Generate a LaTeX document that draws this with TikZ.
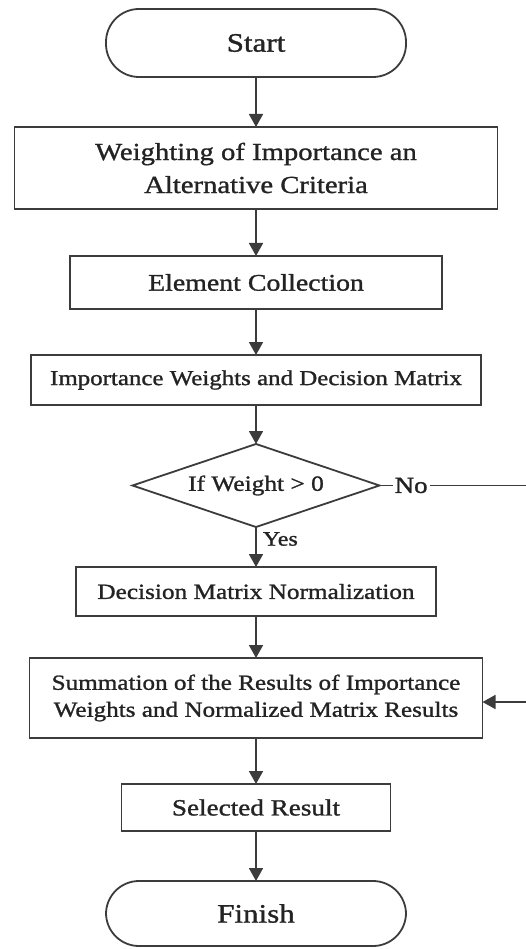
\documentclass[tikz,border=0pt]{standalone}
\usepackage{fontspec}
\setmainfont{Liberation Serif}[FakeStretch=1.17,FakeBold=1.2]
\usetikzlibrary{arrows.meta,positioning,shapes.geometric}
\definecolor{linegray}{RGB}{60,60,60}
\definecolor{textgray}{RGB}{35,35,35}

\begin{document}
\begin{tikzpicture}[
    x=1pt, y=1pt,
    node distance=46pt,
    base/.style={draw=linegray, line width=1.8pt, outer sep=0pt, inner sep=2pt,
                 text=textgray, align=center},
    terminal/.style={base, rectangle, rounded corners=33pt, minimum width=300pt,
                 minimum height=68pt, font=\fontsize{26.5}{30}\selectfont},
    box/.style={base, rectangle, minimum height=50pt},
    decide/.style={base, diamond, aspect=3, minimum width=247pt, minimum height=83pt,
                 inner sep=0pt, font=\fontsize{21.7}{26}\selectfont},
    tag/.style={text=textgray, inner sep=2pt},
    arr/.style={-{Triangle[length=13pt,width=14pt]}, draw=linegray, line width=1.8pt}
]
    \clip (0,0) rectangle (526,-949);

    \node[terminal] (start) at (256,-43) {Start};
    \node[box, below=50pt of start, minimum width=483pt, minimum height=82pt,
          font=\fontsize{24.5}{33}\selectfont] (weigh)
          {Weighting of Importance an\\Alternative Criteria};
    \node[box, below=47pt of weigh, minimum width=372pt, minimum height=53pt,
          font=\fontsize{23.8}{28}\selectfont] (collect) {Element Collection};
    \node[box, below=46pt of collect, minimum width=450pt,
          font=\fontsize{21.3}{26}\selectfont] (matrix)
          {Importance Weights and Decision Matrix};
    \node[decide, below=39pt of matrix] (check) {If Weight > 0};
    \node[box, below=40pt of check, minimum width=360pt, minimum height=49pt,
          font=\fontsize{21.6}{26}\selectfont] (norm)
          {Decision Matrix Normalization};
    \node[box, below=42pt of norm, minimum width=453pt, minimum height=80pt,
          font=\fontsize{21.5}{27}\selectfont] (summ)
          {Summation of the Results of Importance\\Weights and Normalized Matrix Results};
    \node[box, below=46pt of summ, minimum width=269pt, minimum height=47pt,
          font=\fontsize{23.2}{28}\selectfont] (select) {Selected Result};
    \node[terminal, below=50pt of select, minimum height=65pt] (finish) {Finish};

    % no branch runs off the right edge and back in
    \node[tag, right=13pt of check, font=\fontsize{23}{28}\selectfont] (no) {No};
    \coordinate (loop) at (540,0);

    \draw[arr] (start) -- (weigh);
    \draw[arr] (weigh) -- (collect);
    \draw[arr] (collect) -- (matrix);
    \draw[arr] (matrix) -- (check);
    \draw[arr] (check) -- node[tag, right=4pt, pos=0.3,
          font=\fontsize{20.5}{24}\selectfont] {Yes} (norm);
    \draw[arr] (norm) -- (summ);
    \draw[arr] (summ) -- (select);
    \draw[arr] (select) -- (finish);

    \draw[draw=linegray, line width=1.8pt] (check.east) -- (no.west);
    \draw[arr] (no.east) -- (no.east -| loop) |- ([yshift=-4pt]summ.east);
\end{tikzpicture}
\end{document}
